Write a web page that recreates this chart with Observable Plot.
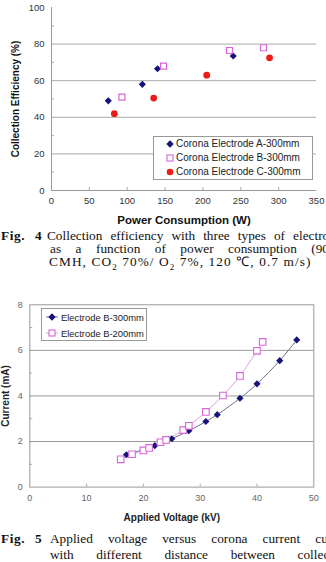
<!DOCTYPE html>
<html><head><meta charset="utf-8">
<script src="https://cdn.jsdelivr.net/npm/d3@7"></script>
<script src="https://cdn.jsdelivr.net/npm/@observablehq/plot@0.6"></script>
<style>
body{margin:0;width:326px;height:562px;overflow:hidden;position:relative;background:#fff;font-family:"Liberation Sans",Arial,sans-serif}
#c1,#c2{position:absolute;left:0}
#c1{top:0}
#c2{top:295px}
.cap{position:absolute;font-family:"Liberation Serif","Times New Roman",serif;font-size:13.3px;line-height:12px;white-space:nowrap;color:#111}
.just{text-align:justify;text-align-last:justify;white-space:normal}
.leg{position:absolute;background:#fff;border:1px solid #999;box-sizing:border-box}
.item{position:absolute;white-space:nowrap;color:#222}
#c1 g[aria-label="x-axis label"] text,#c1 g[aria-label="y-axis label"] text{font-weight:bold;fill:#111}
#c1 g[aria-label="x-axis label"]{font-size:11.5px}
#c1 g[aria-label="y-axis label"]{font-size:10px}
#c2 g[aria-label="x-axis label"],#c2 g[aria-label="y-axis label"]{font-weight:bold;font-size:10px;fill:#222}
</style></head><body>
<div id="c1"></div>
<div id="c2"></div>
<script>
// ---- Fig. 4 data ----
const seriesNames1 = ["Corona Electrode A-300mm", "Corona Electrode B-300mm", "Corona Electrode C-300mm"];
const powerA = [75, 120, 140, 240];
const effA = [49, 58, 66.5, 73.5];
const powerB = [93, 148, 235, 280];
const effB = [51, 68, 76.5, 78];
const powerC = [83, 135, 205, 288];
const effC = [42, 50.5, 63, 72.5];
const xTicks1 = [0, 50, 100, 150, 200, 250, 300, 350];
const yTicks1 = [0, 20, 40, 60, 80, 100];

// ---- Fig. 5 data ----
const seriesNames2 = ["Electrode B-300mm", "Electrode B-200mm"];
const voltage300 = [17, 22, 25, 28, 31, 33, 37, 40, 44, 47];
const current300 = [1.42, 1.82, 2.12, 2.47, 2.88, 3.18, 3.90, 4.53, 5.55, 6.46];
const voltage200 = [16, 18, 20, 21, 23, 24, 27, 28, 31, 34, 37, 40, 41];
const current200 = [1.22, 1.44, 1.61, 1.72, 1.97, 2.07, 2.50, 2.69, 3.30, 4.02, 4.88, 5.98, 6.37];
const xTicks2 = [0, 10, 20, 30, 40, 50];
const yTicks2 = [0, 2, 4, 6, 8];

const navy = "#14147a", pink = "#d865d8", red = "#ee1b1b";

const rows = (xs, ys, name) => xs.map((x, i) => ({x, y: ys[i], name}));
const dA = rows(powerA, effA, seriesNames1[0]);
const dB = rows(powerB, effB, seriesNames1[1]);
const dC = rows(powerC, effC, seriesNames1[2]);

const chart1 = Plot.plot({
  width: 326, height: 226,
  marginLeft: 51, marginRight: 10, marginTop: 7, marginBottom: 36,
  style: {fontFamily: "'Liberation Sans', Arial, sans-serif", fontSize: "9.5px", color: "#333", background: "transparent", overflow: "visible"},
  x: {domain: [0, 350]},
  y: {domain: [0, 100]},
  marks: [
    Plot.ruleY(yTicks1.filter(v => v > 0 && v < 100), {stroke: "#a9a9a9", strokeWidth: 1}),
    Plot.ruleX([0], {stroke: "#9a9a9a"}),
    Plot.ruleY([0], {stroke: "#9a9a9a"}),
    Plot.axisY({ticks: yTicks1, tickSize: 0, tickPadding: 7, label: "Collection Efficiency (%)", labelAnchor: "center", labelOffset: 40, labelArrow: "none"}),
    Plot.axisY({ticks: [10, 30, 50, 70, 90], tickSize: -3, stroke: "#aaa", tickFormat: () => "", label: null}),
    Plot.axisX({ticks: xTicks1, tickSize: 0, tickPadding: 7, label: "Power Consumption (W)", labelAnchor: "center", labelOffset: 33, labelArrow: "none"}),
    Plot.axisX({ticks: xTicks1.slice(1, -1), tickSize: -3, stroke: "#aaa", tickFormat: () => "", label: null}),
    Plot.dot(dA, {x: "x", y: "y", symbol: "diamond2", r: 3.2, fill: navy, stroke: "none"}),
    Plot.dot(dB, {x: "x", y: "y", symbol: "square", r: 3.4, fill: "white", stroke: pink, strokeWidth: 1.2}),
    Plot.dot(dC, {x: "x", y: "y", symbol: "circle", r: 3.4, fill: red, stroke: "none"})
  ]
});
document.getElementById("c1").append(chart1);

const e300 = rows(voltage300, current300, seriesNames2[0]);
const e200 = rows(voltage200, current200, seriesNames2[1]);

const chart2 = Plot.plot({
  width: 326, height: 228,
  marginLeft: 29.3, marginRight: 12.7, marginTop: 9.3, marginBottom: 36.4,
  style: {fontFamily: "'Liberation Sans', Arial, sans-serif", fontSize: "9px", color: "#666", background: "transparent", overflow: "visible"},
  x: {domain: [0, 50]},
  y: {domain: [0, 8]},
  marks: [
    Plot.ruleY(yTicks2.filter(v => v > 0 && v < 8), {stroke: "#9a9a9a"}),
    Plot.frame({stroke: "#999"}),
    Plot.axisY({ticks: yTicks2, tickSize: 0, tickPadding: 7, label: "Current (mA)", labelAnchor: "center", labelOffset: 28, labelArrow: "none"}),
    Plot.axisY({ticks: [1, 3, 5, 7], tickSize: -3, stroke: "#aaa", tickFormat: () => "", label: null}),
    Plot.axisX({ticks: xTicks2, tickSize: 0, tickPadding: 8, label: "Applied Voltage (kV)", labelAnchor: "center", labelOffset: 34, labelArrow: "none"}),
    Plot.axisX({ticks: xTicks2.slice(1, -1), tickSize: -3, stroke: "#aaa", tickFormat: () => "", label: null}),
    Plot.line(e300, {x: "x", y: "y", stroke: "#6e6e8e", strokeWidth: 1, curve: "catmull-rom"}),
    Plot.line(e200, {x: "x", y: "y", stroke: "#d9a2d9", strokeWidth: 1, curve: "catmull-rom"}),
    Plot.dot(e300, {x: "x", y: "y", symbol: "diamond2", r: 3.2, fill: navy, stroke: "none"}),
    Plot.dot(e200, {x: "x", y: "y", symbol: "square", r: 3.7, fill: "white", stroke: pink, strokeWidth: 1.1})
  ]
});
document.getElementById("c2").append(chart2);

// strip any label arrows (fallback for older Plot builds)
document.querySelectorAll('g[aria-label$="axis label"] text').forEach(t => {
  t.textContent = t.textContent.replace(/[\u2191\u2192\u2190\u2193]/g, "").trim();
});

// ---- Legends ----
function legend(left, top, w, h, items, fs, rowYs, markX, textX, withLine) {
  const box = document.createElement("div");
  box.className = "leg";
  Object.assign(box.style, {left: left + "px", top: top + "px", width: w + "px", height: h + "px"});
  document.body.append(box);
  items.forEach((it, i) => {
    const cy = rowYs[i];
    const s = document.createElementNS("http://www.w3.org/2000/svg", "svg");
    s.setAttribute("width", 20); s.setAttribute("height", 12);
    Object.assign(s.style, {position: "absolute", left: (markX - 10) + "px", top: (cy - 6) + "px"});
    let inner = "";
    if (withLine) inner += `<line x1="${10 - withLine}" x2="${10 + withLine}" y1="6" y2="6" stroke="${it.line}" stroke-width="1"/>`;
    if (it.sym === "diamond") inner += `<path d="M10,2.3L13.7,6L10,9.7L6.3,6Z" fill="${it.color}"/>`;
    if (it.sym === "square") inner += `<rect x="7" y="3" width="6" height="6" fill="white" stroke="${it.color}" stroke-width="1.1"/>`;
    if (it.sym === "circle") inner += `<circle cx="10" cy="6" r="3.3" fill="${it.color}"/>`;
    s.innerHTML = inner;
    document.body.append(s);
    const t = document.createElement("div");
    t.className = "item";
    t.textContent = it.name;
    Object.assign(t.style, {left: textX + "px", top: (cy - fs * 0.6) + "px", fontSize: fs + "px", lineHeight: (fs * 1.2) + "px"});
    document.body.append(t);
  });
}
legend(153, 136, 160, 44, [
  {name: seriesNames1[0], sym: "diamond", color: navy},
  {name: seriesNames1[1], sym: "square", color: pink},
  {name: seriesNames1[2], sym: "circle", color: red}
], 10, [144.3, 158.3, 172.3], 170, 176, 0);
legend(40.7, 308, 106, 33, [
  {name: seriesNames2[0], sym: "diamond", color: navy, line: "#6e6e8e"},
  {name: seriesNames2[1], sym: "square", color: pink, line: "#d9a2d9"}
], 9.4, [317.3, 333.3], 51.7, 61, 6);
</script>

<div class="cap" style="left:1px;top:229.5px;letter-spacing:0.6px"><b>Fig.</b></div>
<div class="cap" style="left:35px;top:229.5px"><b>4</b></div>
<div class="cap just" style="left:47px;top:229.5px;width:300px">Collection efficiency with three types of electrodes</div>
<div class="cap just" style="left:50px;top:242.5px;width:279px">as a function of power consumption (90</div>
<div class="cap" style="left:49px;top:255.5px;letter-spacing:1.1px">CMH, CO<sub style="font-size:9px;line-height:0">2</sub> 70%/ O<sub style="font-size:9px;line-height:0">2</sub> 7%, 120 ℃, 0.7 m/s)</div>

<div class="cap" style="left:1px;top:532.5px;letter-spacing:0.6px"><b>Fig.</b></div>
<div class="cap" style="left:35px;top:532.5px"><b>5</b></div>
<div class="cap just" style="left:50px;top:532.5px;width:300px">Applied voltage versus corona current curves</div>
<div class="cap just" style="left:50px;top:548.5px;width:300px">with different distance between collection</div>
</body></html>
